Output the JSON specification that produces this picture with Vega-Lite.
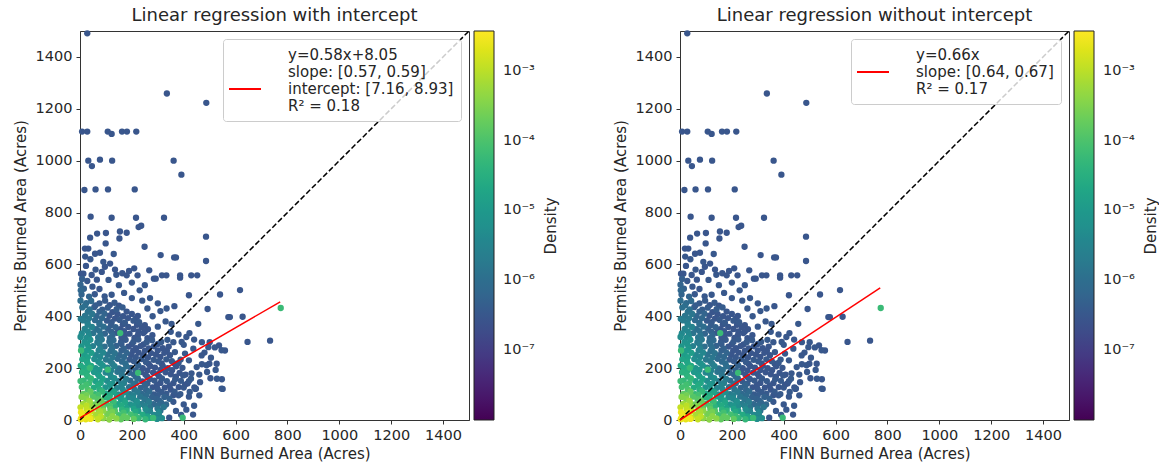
{
  "$schema": "https://vega.github.io/schema/vega-lite/v6.json",
  "background": "white",
  "padding": {"left": 12, "top": 6, "right": 0, "bottom": 0},
  "spacing": 53,
  "config": {
    "font": "DejaVu Sans",
    "view": {"stroke": "#333333", "strokeWidth": 1},
    "axis": {"grid": false, "domainColor": "#333333", "tickColor": "#333333", "labelColor": "#262626", "titleColor": "#262626", "labelFontSize": 14.5, "titleFontSize": 15, "titleFontWeight": "normal", "tickSize": 4, "labelPadding": 4, "labelFlush": false, "labelOverlap": false, "format": "d"},
    "title": {"fontSize": 18, "fontWeight": "normal", "color": "#262626", "offset": 3},
    "legend": {"labelFont": "DejaVu Sans", "titleFont": "DejaVu Sans"}
  },
  "resolve": {"scale": {"color": "independent", "stroke": "independent"}},
  "datasets": {
    "pts": [
      {"x":28,"y":1491,"d":3e-7},{"x":335,"y":1259,"d":3e-7},{"x":487,"y":1223,"d":3e-7},{"x":8,"y":1112,"d":3e-7},{"x":28,"y":1112,"d":3e-7},{"x":107,"y":1112,"d":3e-7},{"x":122,"y":1103,"d":3e-7},{"x":162,"y":1112,"d":3e-7},{"x":181,"y":1112,"d":3e-7},{"x":217,"y":1112,"d":3e-7},
      {"x":32,"y":1000,"d":3e-7},{"x":46,"y":979,"d":3e-7},{"x":77,"y":1004,"d":3e-7},{"x":124,"y":1000,"d":3e-7},{"x":361,"y":1000,"d":3e-7},{"x":391,"y":946,"d":3e-7},{"x":17,"y":887,"d":3e-7},{"x":60,"y":889,"d":3e-7},{"x":108,"y":889,"d":3e-7},{"x":211,"y":889,"d":3e-7},
      {"x":41,"y":784,"d":3e-7},{"x":122,"y":780,"d":3e-7},{"x":216,"y":780,"d":3e-7},{"x":324,"y":780,"d":3e-7},{"x":226,"y":744,"d":3e-7},{"x":236,"y":749,"d":3e-7},{"x":39,"y":703,"d":3e-7},{"x":66,"y":719,"d":3e-7},{"x":100,"y":721,"d":3e-7},{"x":99,"y":681,"d":3e-7},
      {"x":154,"y":727,"d":3e-7},{"x":152,"y":700,"d":3e-7},{"x":180,"y":722,"d":3e-7},{"x":249,"y":668,"d":3e-7},{"x":486,"y":707,"d":3e-7},{"x":19,"y":661,"d":3e-7},{"x":32,"y":661,"d":3e-7},{"x":58,"y":641,"d":3e-7},{"x":77,"y":645,"d":3e-7},{"x":311,"y":636,"d":3e-7},
      {"x":363,"y":627,"d":3e-7},{"x":370,"y":627,"d":3e-7},{"x":486,"y":613,"d":3e-7},{"x":23,"y":594,"d":3e-7},{"x":4,"y":564,"d":3e-7},{"x":13,"y":564,"d":3e-7},{"x":45,"y":559,"d":3e-7},{"x":84,"y":571,"d":3e-7},{"x":96,"y":591,"d":3e-7},{"x":116,"y":603,"d":3e-7},
      {"x":135,"y":580,"d":3e-7},{"x":163,"y":566,"d":3e-7},{"x":180,"y":558,"d":3e-7},{"x":189,"y":575,"d":3e-7},{"x":209,"y":585,"d":3e-7},{"x":222,"y":558,"d":3e-7},{"x":267,"y":577,"d":3e-7},{"x":285,"y":545,"d":3e-7},{"x":292,"y":545,"d":3e-7},{"x":316,"y":558,"d":3e-7},
      {"x":333,"y":558,"d":3e-7},{"x":386,"y":558,"d":3e-7},{"x":386,"y":549,"d":3e-7},{"x":429,"y":558,"d":3e-7},{"x":452,"y":558,"d":3e-7},{"x":420,"y":481,"d":3e-7},{"x":540,"y":484,"d":3e-7},{"x":617,"y":501,"d":3e-7},{"x":364,"y":439,"d":3e-7},{"x":492,"y":428,"d":3e-7},
      {"x":572,"y":397,"d":3e-7},{"x":578,"y":397,"d":3e-7},{"x":627,"y":398,"d":3e-7},{"x":646,"y":301,"d":3e-7},{"x":733,"y":306,"d":3e-7},{"x":559,"y":268,"d":3e-7},{"x":536,"y":288,"d":3e-7},{"x":499,"y":217,"d":3e-7},{"x":527,"y":217,"d":3e-7},{"x":547,"y":157,"d":3e-7},
      {"x":503,"y":161,"d":3e-7},{"x":550,"y":120,"d":3e-7},{"x":463,"y":146,"d":3e-7},{"x":445,"y":120,"d":3e-7},{"x":436,"y":21,"d":3e-7},{"x":344,"y":9,"d":3e-7},{"x":307,"y":10,"d":3e-7},
      {"x":456,"y":371,"d":3.3e-7},{"x":422,"y":335,"d":3.3e-7},{"x":353,"y":371,"d":3.3e-7},{"x":334,"y":430,"d":3.3e-7},{"x":488,"y":211,"d":3.3e-7},{"x":523,"y":193,"d":3.3e-7},{"x":546,"y":269,"d":3.3e-7},{"x":495,"y":281,"d":3.3e-7},{"x":528,"y":159,"d":3.3e-7},{"x":546,"y":121,"d":3.3e-7},
      {"x":447,"y":121,"d":3.3e-7},{"x":398,"y":172,"d":3.3e-7},{"x":366,"y":262,"d":3.3e-7},{"x":392,"y":301,"d":3.3e-7},{"x":405,"y":256,"d":3.3e-7},{"x":437,"y":275,"d":3.3e-7},{"x":469,"y":249,"d":3.3e-7},{"x":450,"y":204,"d":3.3e-7},{"x":420,"y":230,"d":3.3e-7},{"x":470,"y":215,"d":3.3e-7},
      {"x":505,"y":240,"d":3.3e-7},{"x":430,"y":180,"d":3.3e-7},{"x":380,"y":220,"d":3.3e-7},{"x":400,"y":290,"d":3.3e-7},{"x":360,"y":300,"d":3.3e-7},{"x":380,"y":330,"d":3.3e-7},{"x":350,"y":340,"d":3.3e-7},{"x":470,"y":300,"d":3.3e-7},{"x":440,"y":310,"d":3.3e-7},{"x":410,"y":320,"d":3.3e-7},
      {"x":500,"y":300,"d":3.3e-7},{"x":520,"y":280,"d":3.3e-7},{"x":480,"y":260,"d":3.3e-7},{"x":460,"y":175,"d":3.3e-7},{"x":420,"y":150,"d":3.3e-7},{"x":490,"y":185,"d":3.3e-7},{"x":400,"y":125,"d":3.3e-7},{"x":380,"y":95,"d":3.3e-7},{"x":420,"y":90,"d":3.3e-7},{"x":460,"y":95,"d":3.3e-7},
      {"x":360,"y":70,"d":3.3e-7},{"x":400,"y":60,"d":3.3e-7},{"x":440,"y":55,"d":3.3e-7},{"x":370,"y":35,"d":3.3e-7},{"x":410,"y":40,"d":3.3e-7},{"x":390,"y":20,"d":3.3e-7},{"x":300,"y":360,"d":3.3e-7},{"x":330,"y":380,"d":3.3e-7},{"x":310,"y":420,"d":3.3e-7},{"x":280,"y":400,"d":3.3e-7},
      {"x":260,"y":430,"d":3.3e-7},{"x":240,"y":460,"d":3.3e-7},{"x":200,"y":470,"d":3.3e-7},{"x":170,"y":490,"d":3.3e-7},{"x":230,"y":500,"d":3.3e-7},{"x":270,"y":470,"d":3.3e-7},{"x":300,"y":450,"d":3.3e-7},{"x":150,"y":520,"d":3.3e-7},{"x":110,"y":540,"d":3.3e-7},{"x":200,"y":530,"d":3.3e-7},
      {"x":250,"y":520,"d":3.3e-7},{"x":140,"y":560,"d":3.3e-7},{"x":90,"y":610,"d":3.3e-7},{"x":60,"y":580,"d":3.3e-7},{"x":130,"y":640,"d":3.3e-7},{"x":40,"y":620,"d":3.3e-7},{"x":20,"y":630,"d":3.3e-7},
      {"x":8,"y":544,"d":4.5e-7},{"x":28,"y":536,"d":3.3e-7},{"x":65,"y":541,"d":3e-7},
      {"x":15,"y":506,"d":5e-7},{"x":48,"y":514,"d":3.3e-7},{"x":75,"y":505,"d":3e-7},{"x":2,"y":522,"d":6e-7},
      {"x":6,"y":484,"d":6e-7},{"x":35,"y":476,"d":6e-7},{"x":57,"y":485,"d":3.3e-7},{"x":95,"y":477,"d":3.3e-7},{"x":122,"y":483,"d":3.3e-7},{"x":3,"y":500,"d":7e-7},
      {"x":24,"y":451,"d":8e-7},{"x":43,"y":459,"d":8e-7},{"x":75,"y":450,"d":3.6e-7},{"x":97,"y":460,"d":3.6e-7},{"x":133,"y":452,"d":3.6e-7},{"x":2,"y":460,"d":1e-6},
      {"x":20,"y":442,"d":1e-6},{"x":60,"y":442,"d":4e-7},{"x":115,"y":443,"d":3e-7},{"x":150,"y":441,"d":3e-7},
      {"x":9,"y":434,"d":1.1e-6},{"x":37,"y":426,"d":1.1e-6},{"x":55,"y":435,"d":4e-7},{"x":86,"y":425,"d":4e-7},{"x":107,"y":433,"d":4e-7},{"x":141,"y":427,"d":4e-7},{"x":164,"y":434,"d":4e-7},
      {"x":30,"y":417,"d":1.3e-6},{"x":75,"y":418,"d":5e-7},{"x":125,"y":416,"d":3e-7},{"x":180,"y":418,"d":3e-7},
      {"x":19,"y":401,"d":1.5e-6},{"x":47,"y":409,"d":1.5e-6},{"x":64,"y":400,"d":6e-7},{"x":94,"y":410,"d":6e-7},{"x":113,"y":402,"d":3e-7},{"x":145,"y":408,"d":3e-7},{"x":166,"y":400,"d":3e-7},{"x":200,"y":409,"d":3e-7},{"x":223,"y":401,"d":3e-7},{"x":3,"y":390,"d":2e-6},
      {"x":35,"y":392,"d":1.8e-6},{"x":85,"y":393,"d":7e-7},{"x":135,"y":391,"d":3e-7},{"x":185,"y":393,"d":3e-7},{"x":215,"y":392,"d":3e-7},
      {"x":12,"y":384,"d":2e-6},{"x":29,"y":376,"d":2e-6},{"x":58,"y":385,"d":8e-7},{"x":75,"y":375,"d":8e-7},{"x":104,"y":383,"d":3.6e-7},{"x":122,"y":377,"d":3.6e-7},{"x":153,"y":386,"d":3.6e-7},{"x":173,"y":375,"d":3.6e-7},{"x":206,"y":383,"d":3.6e-7},{"x":228,"y":377,"d":3.6e-7},
      {"x":30,"y":367,"d":2.5e-6},{"x":75,"y":368,"d":9e-7},{"x":120,"y":366,"d":4e-7},{"x":165,"y":368,"d":3e-7},{"x":220,"y":367,"d":3e-7},{"x":250,"y":366,"d":3e-7},
      {"x":18,"y":351,"d":3e-6},{"x":46,"y":359,"d":3e-6},{"x":62,"y":350,"d":1e-6},{"x":91,"y":360,"d":1e-6},{"x":108,"y":352,"d":5e-7},{"x":137,"y":358,"d":5e-7},{"x":155,"y":350,"d":3e-7},{"x":186,"y":359,"d":3e-7},{"x":206,"y":351,"d":3e-7},{"x":239,"y":358,"d":3e-7},{"x":262,"y":350,"d":3e-7},
      {"x":30,"y":342,"d":3.5e-6},{"x":75,"y":343,"d":1.1e-6},{"x":120,"y":341,"d":5e-7},{"x":170,"y":343,"d":3e-7},{"x":225,"y":342,"d":3e-7},{"x":250,"y":341,"d":3e-7},
      {"x":7,"y":334,"d":4e-6},{"x":34,"y":326,"d":4e-6},{"x":51,"y":335,"d":1.3e-6},{"x":79,"y":325,"d":1.3e-6},{"x":96,"y":333,"d":6e-7},{"x":125,"y":327,"d":6e-7},{"x":142,"y":336,"d":3e-7},{"x":172,"y":325,"d":3e-7},{"x":191,"y":333,"d":3e-7},{"x":223,"y":326,"d":3e-7},{"x":244,"y":335,"d":3e-7},{"x":279,"y":327,"d":3e-7},{"x":2,"y":320,"d":5e-6},
      {"x":25,"y":317,"d":5e-6},{"x":70,"y":318,"d":1.5e-6},{"x":115,"y":316,"d":7e-7},{"x":160,"y":318,"d":3.3e-7},{"x":210,"y":317,"d":3e-7},{"x":260,"y":316,"d":3e-7},
      {"x":17,"y":301,"d":6e-6},{"x":40,"y":309,"d":6e-6},{"x":67,"y":300,"d":1.8e-6},{"x":84,"y":310,"d":1.8e-6},{"x":113,"y":302,"d":8e-7},{"x":129,"y":308,"d":8e-7},{"x":158,"y":300,"d":3.6e-7},{"x":176,"y":309,"d":3.6e-7},{"x":206,"y":301,"d":3.6e-7},{"x":225,"y":310,"d":3.6e-7},{"x":257,"y":300,"d":3.6e-7},{"x":278,"y":308,"d":3.6e-7},{"x":313,"y":301,"d":3.6e-7},{"x":337,"y":309,"d":3.6e-7},
      {"x":28,"y":292,"d":7e-6},{"x":75,"y":293,"d":2e-6},{"x":118,"y":291,"d":9e-7},{"x":160,"y":293,"d":4e-7},{"x":200,"y":292,"d":3e-7},{"x":245,"y":291,"d":3e-7},{"x":300,"y":293,"d":3e-7},
      {"x":6,"y":284,"d":9e-6},{"x":33,"y":276,"d":9e-6},{"x":50,"y":285,"d":2.5e-6},{"x":78,"y":275,"d":2.5e-6},{"x":95,"y":283,"d":1e-6},{"x":124,"y":277,"d":1e-6},{"x":140,"y":286,"d":5e-7},{"x":169,"y":275,"d":5e-7},{"x":187,"y":283,"d":3e-7},{"x":216,"y":277,"d":3e-7},{"x":234,"y":285,"d":3e-7},{"x":265,"y":276,"d":3e-7},{"x":285,"y":284,"d":3e-7},{"x":319,"y":277,"d":3e-7},{"x":342,"y":283,"d":3e-7},
      {"x":25,"y":267,"d":1e-5},{"x":72,"y":268,"d":3e-6},{"x":118,"y":266,"d":1.1e-6},{"x":160,"y":268,"d":5e-7},{"x":205,"y":267,"d":3e-7},{"x":250,"y":266,"d":3e-7},{"x":300,"y":268,"d":3e-7},{"x":335,"y":267,"d":3e-7},
      {"x":16,"y":251,"d":1.2e-5},{"x":44,"y":259,"d":1.2e-5},{"x":61,"y":250,"d":3.5e-6},{"x":89,"y":260,"d":3.5e-6},{"x":106,"y":252,"d":1.3e-6},{"x":134,"y":258,"d":1.3e-6},{"x":151,"y":250,"d":6e-7},{"x":180,"y":259,"d":6e-7},{"x":197,"y":251,"d":3e-7},{"x":226,"y":260,"d":3e-7},{"x":244,"y":250,"d":3e-7},{"x":274,"y":258,"d":3e-7},{"x":293,"y":252,"d":3e-7},{"x":325,"y":259,"d":3e-7},{"x":347,"y":250,"d":3e-7},
      {"x":30,"y":242,"d":1.5e-5},{"x":78,"y":243,"d":4e-6},{"x":125,"y":241,"d":1.5e-6},{"x":170,"y":243,"d":7e-7},{"x":215,"y":242,"d":3.3e-7},{"x":262,"y":241,"d":3e-7},{"x":310,"y":243,"d":3e-7},
      {"x":9,"y":234,"d":1.8e-5},{"x":27,"y":226,"d":1.8e-5},{"x":55,"y":235,"d":5e-6},{"x":71,"y":225,"d":5e-6},{"x":100,"y":233,"d":1.8e-6},{"x":117,"y":227,"d":1.8e-6},{"x":145,"y":236,"d":8e-7},{"x":162,"y":225,"d":8e-7},{"x":191,"y":233,"d":3.6e-7},{"x":208,"y":227,"d":3.6e-7},{"x":237,"y":235,"d":3.6e-7},{"x":254,"y":224,"d":3.6e-7},{"x":284,"y":232,"d":3.6e-7},{"x":302,"y":226,"d":3.6e-7},{"x":333,"y":234,"d":3.6e-7},{"x":354,"y":227,"d":3.6e-7},{"x":388,"y":233,"d":3.6e-7},{"x":3,"y":210,"d":2.5e-5},
      {"x":30,"y":217,"d":2e-5},{"x":80,"y":218,"d":6e-6},{"x":125,"y":216,"d":2e-6},{"x":175,"y":218,"d":9e-7},{"x":220,"y":217,"d":4e-7},{"x":265,"y":216,"d":3e-7},{"x":315,"y":218,"d":3e-7},{"x":365,"y":217,"d":3e-7},
      {"x":15,"y":201,"d":2.5e-5},{"x":43,"y":209,"d":2.5e-5},{"x":60,"y":200,"d":7e-6},{"x":88,"y":210,"d":7e-6},{"x":105,"y":202,"d":2.5e-6},{"x":133,"y":208,"d":2.5e-6},{"x":150,"y":199,"d":1e-6},{"x":179,"y":207,"d":1e-6},{"x":196,"y":201,"d":5e-7},{"x":225,"y":210,"d":5e-7},{"x":242,"y":200,"d":3e-7},{"x":271,"y":208,"d":3e-7},{"x":289,"y":202,"d":3e-7},{"x":319,"y":209,"d":3e-7},{"x":338,"y":200,"d":3e-7},{"x":371,"y":207,"d":3e-7},{"x":395,"y":201,"d":3e-7},
      {"x":30,"y":192,"d":3e-5},{"x":75,"y":193,"d":8e-6},{"x":120,"y":191,"d":3e-6},{"x":165,"y":193,"d":1.1e-6},{"x":215,"y":192,"d":5e-7},{"x":260,"y":191,"d":3e-7},{"x":310,"y":193,"d":3e-7},{"x":355,"y":192,"d":3e-7},
      {"x":8,"y":184,"d":3.5e-5},{"x":25,"y":176,"d":3.5e-5},{"x":54,"y":185,"d":1e-5},{"x":70,"y":175,"d":1e-5},{"x":99,"y":183,"d":3.5e-6},{"x":116,"y":177,"d":3.5e-6},{"x":144,"y":186,"d":1.3e-6},{"x":161,"y":174,"d":1.3e-6},{"x":190,"y":182,"d":6e-7},{"x":207,"y":176,"d":6e-7},{"x":235,"y":185,"d":3e-7},{"x":252,"y":175,"d":3e-7},{"x":282,"y":183,"d":3e-7},{"x":299,"y":177,"d":3e-7},{"x":330,"y":184,"d":3e-7},{"x":350,"y":176,"d":3e-7},{"x":384,"y":182,"d":3e-7},{"x":407,"y":175,"d":3e-7},
      {"x":30,"y":167,"d":4e-5},{"x":75,"y":168,"d":1.2e-5},{"x":120,"y":166,"d":4e-6},{"x":165,"y":168,"d":1.5e-6},{"x":215,"y":167,"d":7e-7},{"x":260,"y":166,"d":3.3e-7},{"x":305,"y":168,"d":3e-7},{"x":370,"y":167,"d":3e-7},
      {"x":14,"y":152,"d":5e-5},{"x":42,"y":160,"d":5e-5},{"x":59,"y":150,"d":1.5e-5},{"x":87,"y":159,"d":1.5e-5},{"x":104,"y":151,"d":5e-6},{"x":132,"y":161,"d":5e-6},{"x":149,"y":150,"d":1.8e-6},{"x":178,"y":158,"d":1.8e-6},{"x":194,"y":152,"d":8e-7},{"x":223,"y":160,"d":8e-7},{"x":240,"y":149,"d":3.6e-7},{"x":269,"y":158,"d":3.6e-7},{"x":287,"y":152,"d":3.6e-7},{"x":316,"y":160,"d":3.6e-7},{"x":335,"y":150,"d":3.6e-7},{"x":367,"y":157,"d":3.6e-7},{"x":389,"y":151,"d":3.6e-7},{"x":428,"y":159,"d":3.6e-7},{"x":2,"y":150,"d":6e-5},
      {"x":35,"y":142,"d":6e-5},{"x":80,"y":143,"d":1.8e-5},{"x":125,"y":141,"d":6e-6},{"x":170,"y":143,"d":2.2e-6},{"x":215,"y":142,"d":9e-7},{"x":260,"y":141,"d":4e-7},{"x":310,"y":143,"d":3e-7},{"x":360,"y":142,"d":3e-7},{"x":415,"y":141,"d":3e-7},
      {"x":7,"y":127,"d":8e-5},{"x":24,"y":135,"d":8e-5},{"x":53,"y":125,"d":2.5e-5},{"x":70,"y":134,"d":2.5e-5},{"x":98,"y":126,"d":8e-6},{"x":115,"y":136,"d":8e-6},{"x":143,"y":124,"d":3e-6},{"x":160,"y":133,"d":3e-6},{"x":189,"y":127,"d":1.1e-6},{"x":206,"y":136,"d":1.1e-6},{"x":234,"y":124,"d":5.5e-7},{"x":251,"y":134,"d":5.5e-7},{"x":280,"y":126,"d":3e-7},{"x":297,"y":135,"d":3e-7},{"x":327,"y":125,"d":3e-7},{"x":346,"y":133,"d":3e-7},{"x":381,"y":127,"d":3e-7},{"x":405,"y":136,"d":3e-7},{"x":441,"y":126,"d":3e-7},
      {"x":30,"y":117,"d":1e-4},{"x":75,"y":118,"d":3e-5},{"x":120,"y":116,"d":1e-5},{"x":165,"y":118,"d":3.5e-6},{"x":210,"y":117,"d":1.3e-6},{"x":255,"y":116,"d":6e-7},{"x":300,"y":118,"d":3.3e-7},{"x":350,"y":117,"d":3e-7},
      {"x":13,"y":101,"d":1.6e-4},{"x":40,"y":109,"d":1.6e-4},{"x":58,"y":100,"d":5e-5},{"x":85,"y":110,"d":5e-5},{"x":102,"y":102,"d":1.6e-5},{"x":131,"y":108,"d":1.6e-5},{"x":147,"y":99,"d":5e-6},{"x":176,"y":107,"d":5e-6},{"x":193,"y":100,"d":1.8e-6},{"x":221,"y":109,"d":1.8e-6},{"x":238,"y":101,"d":8e-7},{"x":267,"y":110,"d":8e-7},{"x":284,"y":99,"d":3.6e-7},{"x":314,"y":108,"d":3.6e-7},{"x":333,"y":101,"d":3.6e-7},{"x":365,"y":109,"d":3.6e-7},{"x":387,"y":100,"d":3.6e-7},{"x":423,"y":108,"d":3.6e-7},
      {"x":25,"y":95,"d":2.5e-4},{"x":70,"y":96,"d":8e-5},{"x":115,"y":94,"d":2.5e-5},{"x":160,"y":96,"d":8e-6},{"x":205,"y":95,"d":2.5e-6},{"x":255,"y":94,"d":9e-7},{"x":300,"y":96,"d":4e-7},{"x":360,"y":95,"d":3e-7},
      {"x":6,"y":89,"d":3.5e-4},{"x":24,"y":81,"d":3.5e-4},{"x":50,"y":90,"d":1.2e-4},{"x":68,"y":80,"d":1.2e-4},{"x":96,"y":88,"d":3.5e-5},{"x":113,"y":82,"d":3.5e-5},{"x":142,"y":91,"d":1.1e-5},{"x":158,"y":80,"d":1.1e-5},{"x":187,"y":87,"d":4e-6},{"x":204,"y":83,"d":4e-6},{"x":232,"y":90,"d":1.4e-6},{"x":249,"y":79,"d":1.4e-6},{"x":278,"y":88,"d":5e-7},{"x":295,"y":81,"d":5e-7},{"x":325,"y":89,"d":5e-7},{"x":345,"y":82,"d":5e-7},
      {"x":35,"y":75,"d":5e-4},{"x":80,"y":76,"d":1.5e-4},{"x":125,"y":74,"d":4e-5},{"x":170,"y":76,"d":1.2e-5},{"x":215,"y":75,"d":4e-6},{"x":260,"y":74,"d":1.3e-6},{"x":305,"y":76,"d":5e-7},
      {"x":12,"y":62,"d":6e-4},{"x":38,"y":70,"d":6e-4},{"x":57,"y":60,"d":2e-4},{"x":84,"y":69,"d":2e-4},{"x":101,"y":63,"d":6e-5},{"x":130,"y":71,"d":6e-5},{"x":147,"y":61,"d":1.8e-5},{"x":174,"y":68,"d":1.8e-5},{"x":193,"y":60,"d":6e-6},{"x":220,"y":70,"d":6e-6},{"x":237,"y":62,"d":2e-6},{"x":266,"y":69,"d":2e-6},{"x":283,"y":61,"d":7e-7},{"x":313,"y":67,"d":7e-7},{"x":332,"y":60,"d":7e-7},
      {"x":25,"y":55,"d":1e-3},{"x":70,"y":56,"d":3.5e-4},{"x":115,"y":54,"d":1e-4},{"x":160,"y":56,"d":2.5e-5},{"x":205,"y":55,"d":8e-6},{"x":250,"y":54,"d":2.5e-6},{"x":300,"y":56,"d":8e-7},
      {"x":2,"y":49,"d":1.2e-3},{"x":26,"y":41,"d":1.2e-3},{"x":44,"y":50,"d":5e-4},{"x":71,"y":40,"d":5e-4},{"x":89,"y":48,"d":1.5e-4},{"x":117,"y":42,"d":1.5e-4},{"x":134,"y":51,"d":4e-5},{"x":162,"y":40,"d":4e-5},{"x":180,"y":47,"d":1.5e-5},{"x":207,"y":43,"d":1.5e-5},{"x":224,"y":52,"d":5e-6},{"x":253,"y":41,"d":5e-6},{"x":270,"y":49,"d":1.5e-6},{"x":299,"y":44,"d":1.5e-6},{"x":323,"y":50,"d":1.5e-6},
      {"x":45,"y":35,"d":1.2e-3},{"x":90,"y":36,"d":4e-4},{"x":135,"y":34,"d":1.2e-4},{"x":180,"y":36,"d":4e-5},{"x":225,"y":35,"d":1.2e-5},{"x":270,"y":34,"d":3e-6},{"x":310,"y":36,"d":1e-6},
      {"x":13,"y":22,"d":2e-3},{"x":33,"y":29,"d":2e-3},{"x":60,"y":20,"d":7e-4},{"x":78,"y":31,"d":7e-4},{"x":105,"y":23,"d":2.5e-4},{"x":124,"y":30,"d":2.5e-4},{"x":150,"y":19,"d":8e-5},{"x":168,"y":28,"d":8e-5},{"x":195,"y":22,"d":8e-5},{"x":214,"y":31,"d":2.5e-5},{"x":241,"y":21,"d":2.5e-5},{"x":259,"y":30,"d":4e-6},{"x":286,"y":20,"d":4e-6},{"x":304,"y":29,"d":4e-6},
      {"x":35,"y":15,"d":2e-3},{"x":80,"y":14,"d":1e-3},{"x":125,"y":15,"d":4e-4},{"x":170,"y":14,"d":1.6e-4},{"x":215,"y":15,"d":6e-5},{"x":260,"y":14,"d":1.5e-5},{"x":305,"y":15,"d":3e-6},
      {"x":4,"y":5,"d":2.2e-3},{"x":22,"y":3,"d":2.2e-3},{"x":45,"y":8,"d":1.2e-3},{"x":69,"y":3,"d":1.2e-3},{"x":90,"y":7,"d":4e-4},{"x":113,"y":2,"d":4e-4},{"x":140,"y":6,"d":4e-4},{"x":158,"y":3,"d":1.6e-4},{"x":181,"y":8,"d":1.6e-4},{"x":207,"y":4,"d":1.6e-4},{"x":226,"y":7,"d":5e-5},{"x":252,"y":3,"d":5e-5},{"x":270,"y":8,"d":2e-5},{"x":297,"y":4,"d":5e-6},{"x":316,"y":7,"d":5e-6},
      {"x":774,"y":432,"d":6e-5},{"x":396,"y":9,"d":6e-5},{"x":282,"y":8,"d":6e-5},{"x":155,"y":335,"d":6e-5},{"x":38,"y":201,"d":6e-5},{"x":107,"y":194,"d":6e-5},{"x":224,"y":182,"d":6e-5},{"x":4,"y":268,"d":6e-5},
      {"x":3,"y":3,"d":2.8e-3},{"x":15,"y":8,"d":2.8e-3},{"x":8,"y":16,"d":2.8e-3},{"x":26,"y":14,"d":2.8e-3},{"x":40,"y":4,"d":2.8e-3},{"x":4,"y":30,"d":2.8e-3}
    ],
    "diag": [{"x": 0, "y": 0}, {"x": 1500, "y": 1500}],
    "fit1": [
      {"x": 0, "y": 8.05, "s": "intercept: [7.16, 8.93]"},
      {"x": 772, "y": 455.8, "s": "intercept: [7.16, 8.93]"}
    ],
    "fit2": [
      {"x": 0, "y": 0, "s": "slope: [0.64, 0.67]"},
      {"x": 772, "y": 509.5, "s": "slope: [0.64, 0.67]"}
    ]
  },
  "hconcat": [
    {
      "title": "Linear regression with intercept",
      "width": 389,
      "height": 389,
      "resolve": {"axis": {"y": "independent"}},
      "layer": [
        {
          "data": {"name": "pts"},
          "mark": {"type": "circle", "size": 40, "opacity": 1},
          "encoding": {
            "x": {"field": "x", "type": "quantitative", "scale": {"domain": [0, 1500], "nice": false}, "axis": {"values": [0, 200, 400, 600, 800, 1000, 1200, 1400], "title": "FINN Burned Area (Acres)", "titlePadding": 5}},
            "y": {"field": "y", "type": "quantitative", "scale": {"domain": [0, 1500], "nice": false}, "axis": {"values": [0, 200, 400, 600, 800, 1000, 1200, 1400], "title": "Permits Burned Area (Acres)", "titlePadding": 7}},
            "color": {"field": "d", "type": "quantitative", "scale": {"type": "log", "domain": [1e-8, 3.7e-3], "scheme": "viridis", "clamp": true},
              "legend": {"orient": "right", "offset": -84, "padding": 0, "gradientLength": 389, "gradientThickness": 20, "gradientStrokeColor": "#222222", "gradientStrokeWidth": 1, "values": [1e-7, 1e-6, 1e-5, 1e-4, 1e-3], "labelExpr": "'10⁻' + ['⁰','¹','²','³','⁴','⁵','⁶','⁷','⁸'][round(-log(datum.value)/LN10)]", "labelFontSize": 14.5, "labelOffset": 9, "labelColor": "#262626", "labelOverlap": false, "title": null}},
            "order": {"field": "d", "type": "quantitative"}
          }
        },
        {
          "data": {"name": "diag"},
          "mark": {"type": "line", "color": "black", "strokeDash": [5.5, 2.5], "strokeWidth": 1.5},
          "encoding": {"x": {"field": "x", "type": "quantitative"}, "y": {"field": "y", "type": "quantitative", "axis": {"orient": "right", "title": "Density", "titleAngle": 270, "titleBaseline": "top", "labels": false, "ticks": false, "domain": false, "titlePadding": 74}}}
        },
        {
          "data": {"name": "fit1"},
          "mark": {"type": "line", "strokeWidth": 1.5},
          "encoding": {
            "x": {"field": "x", "type": "quantitative"},
            "y": {"field": "y", "type": "quantitative", "axis": null},
            "stroke": {"field": "s", "type": "nominal", "scale": {"domain": ["y=0.58x+8.05", "slope: [0.57, 0.59]", "intercept: [7.16, 8.93]", "R² = 0.18"], "range": ["transparent", "transparent", "#ff0000", "transparent"]},
              "legend": {"orient": "top-right", "offset": 8, "title": null, "fillColor": "rgba(255,255,255,0.8)", "strokeColor": "#cccccc", "cornerRadius": 3, "padding": 7, "rowPadding": -1, "symbolType": "M-2,0H2", "symbolStrokeWidth": 2, "symbolSize": 256, "symbolOffset": 6, "labelFontSize": 15, "labelLimit": 500, "labelOffset": 34, "labelColor": "#262626"}}
          }
        }
      ]
    },
    {
      "title": "Linear regression without intercept",
      "width": 389,
      "height": 389,
      "resolve": {"axis": {"y": "independent"}},
      "layer": [
        {
          "data": {"name": "pts"},
          "mark": {"type": "circle", "size": 40, "opacity": 1},
          "encoding": {
            "x": {"field": "x", "type": "quantitative", "scale": {"domain": [0, 1500], "nice": false}, "axis": {"values": [0, 200, 400, 600, 800, 1000, 1200, 1400], "title": "FINN Burned Area (Acres)", "titlePadding": 5}},
            "y": {"field": "y", "type": "quantitative", "scale": {"domain": [0, 1500], "nice": false}, "axis": {"values": [0, 200, 400, 600, 800, 1000, 1200, 1400], "title": "Permits Burned Area (Acres)", "titlePadding": 7}},
            "color": {"field": "d", "type": "quantitative", "scale": {"type": "log", "domain": [1e-8, 3.7e-3], "scheme": "viridis", "clamp": true},
              "legend": {"orient": "right", "offset": -84, "padding": 0, "gradientLength": 389, "gradientThickness": 20, "gradientStrokeColor": "#222222", "gradientStrokeWidth": 1, "values": [1e-7, 1e-6, 1e-5, 1e-4, 1e-3], "labelExpr": "'10⁻' + ['⁰','¹','²','³','⁴','⁵','⁶','⁷','⁸'][round(-log(datum.value)/LN10)]", "labelFontSize": 14.5, "labelOffset": 9, "labelColor": "#262626", "labelOverlap": false, "title": null}},
            "order": {"field": "d", "type": "quantitative"}
          }
        },
        {
          "data": {"name": "diag"},
          "mark": {"type": "line", "color": "black", "strokeDash": [5.5, 2.5], "strokeWidth": 1.5},
          "encoding": {"x": {"field": "x", "type": "quantitative"}, "y": {"field": "y", "type": "quantitative", "axis": {"orient": "right", "title": "Density", "titleAngle": 270, "titleBaseline": "top", "labels": false, "ticks": false, "domain": false, "titlePadding": 74}}}
        },
        {
          "data": {"name": "fit2"},
          "mark": {"type": "line", "strokeWidth": 1.5},
          "encoding": {
            "x": {"field": "x", "type": "quantitative"},
            "y": {"field": "y", "type": "quantitative", "axis": null},
            "stroke": {"field": "s", "type": "nominal", "scale": {"domain": ["y=0.66x", "slope: [0.64, 0.67]", "R² = 0.17"], "range": ["transparent", "#ff0000", "transparent"]},
              "legend": {"orient": "top-right", "offset": 8, "title": null, "fillColor": "rgba(255,255,255,0.8)", "strokeColor": "#cccccc", "cornerRadius": 3, "padding": 7, "rowPadding": -1, "symbolType": "M-2,0H2", "symbolStrokeWidth": 2, "symbolSize": 256, "symbolOffset": 6, "labelFontSize": 15, "labelLimit": 500, "labelOffset": 34, "labelColor": "#262626"}}
          }
        }
      ]
    }
  ]
}
